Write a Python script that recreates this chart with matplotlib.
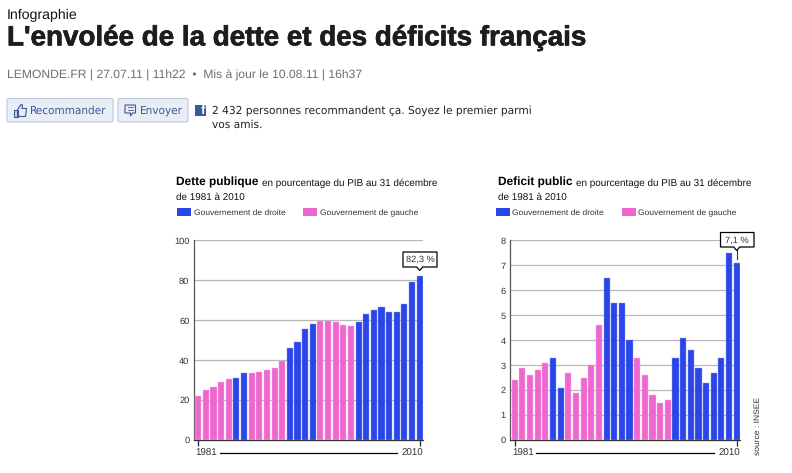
import matplotlib
matplotlib.use("Agg")
import matplotlib.pyplot as plt
import matplotlib.patheffects as pe
from matplotlib.patches import FancyBboxPatch, Rectangle, Polygon

W, H = 792, 473
plt.rcParams['font.family'] = ['Liberation Sans', 'DejaVu Sans']
plt.rcParams['text.hinting'] = 'no_hinting'
plt.rcParams['text.hinting_factor'] = 8

years = list(range(1981, 2011))
dette = [22, 25.3, 26.6, 29, 30.6, 31.2, 33.4, 33.4, 34, 35.2, 36, 39.8, 46, 49.3, 55.5,
         58.2, 59.5, 59.8, 59.1, 57.7, 57.2, 59.1, 63.2, 65, 66.7, 64.2, 64.3, 68, 79, 82.3]
deficit = [2.4, 2.9, 2.6, 2.8, 3.1, 3.3, 2.1, 2.7, 1.9, 2.5, 3.0, 4.6, 6.5, 5.5, 5.5,
           4.0, 3.3, 2.6, 1.8, 1.5, 1.6, 3.3, 4.1, 3.6, 2.9, 2.3, 2.7, 3.3, 7.5, 7.1]
gouv = ['g'] * 5 + ['d'] * 2 + ['g'] * 5 + ['d'] * 4 + ['g'] * 5 + ['d'] * 9
BLUE, PINK = '#2b46e8', '#ee67cf'
colors = {'d': BLUE, 'g': PINK}
edges = {'d': '#8c9bf0', 'g': '#f6b0e4'}

fig = plt.figure(figsize=(W / 100, H / 100), dpi=100, facecolor='white')
page = fig.add_axes([0, 0, 1, 1])
page.set_xlim(0, W)
page.set_ylim(H, 0)
page.axis('off')
page.set_zorder(5)
page.patch.set_alpha(0)


def T(x, y, s, **k):
    k.setdefault('va', 'center')
    k.setdefault('color', '#111111')
    return page.text(x, y, s, **k)


# Page header
T(7, 15, 'Infographie', fontsize=10.2)
T(7, 38, "L'envolée de la dette et des déficits français", fontsize=20.0, fontweight='bold',
  color='#1d1d1d', path_effects=[pe.withStroke(linewidth=0.5, foreground='#1d1d1d')])
T(7, 75.5, 'LEMONDE.FR | 27.07.11 | 11h22  •  Mis à jour le 10.08.11 | 16h37', fontsize=8.75, color='#6f6f6f')

for x0, x1 in [(7, 113), (118, 188)]:
    page.add_patch(FancyBboxPatch((x0, 98.5), x1 - x0, 23.5, boxstyle='round,pad=0,rounding_size=2',
                                  fc='#e9edf6', ec='#bcc6dd', lw=0.8))
T(30, 110.5, 'Recommander', fontsize=7.6, color='#3b5998', family=['DejaVu Sans'])
T(140, 110.5, 'Envoyer', fontsize=7.6, color='#3b5998', family=['DejaVu Sans'])
# thumb icon
page.add_patch(Rectangle((14, 110), 3.5, 6.5, fc='#c9d3ea', ec='#3b5998', lw=0.8))
page.add_patch(Polygon([(17.5, 110), (21, 104.5), (22.5, 105), (22, 108.5), (26.5, 108.5), (25.5, 116.5), (17.5, 116.5)],
                       closed=True, fc='none', ec='#3b5998', lw=0.8))
# comment icon
page.add_patch(Polygon([(125, 105), (135.5, 105), (135.5, 113), (132.5, 113), (130.5, 116), (130.5, 113), (125, 113)],
                       closed=True, fc='none', ec='#3b5998', lw=0.8))
page.plot([127.5, 133], [107.5, 107.5], color='#3b5998', lw=0.6)
page.plot([127.5, 133], [110, 110], color='#3b5998', lw=0.6)
# fb icon
page.add_patch(Rectangle((195, 104.5), 11, 11, fc='#3b5998', ec='none'))
T(200.5, 111, 'f', fontsize=9.5, color='white', fontweight='bold', ha='left')
T(212, 110.5, '2 432 personnes recommandent ça. Soyez le premier parmi', fontsize=7.64, color='#222222',
  family=['DejaVu Sans'])
T(212, 125, 'vos amis.', fontsize=7.64, color='#222222', family=['DejaVu Sans'])


def chart(vals, ymax, yticks, left, right, title, tx, legx, lab_box, lab_tip):
    top, bottom = 240.5, 440
    ax = fig.add_axes([left / W, 1 - bottom / H, (right - left) / W, (bottom - top) / H])
    xs = list(range(len(vals)))
    ax.bar(xs, vals, width=0.8, color=[colors[g] for g in gouv],
           edgecolor=[edges[g] for g in gouv], linewidth=0.3, zorder=3)
    ax.set_xlim(-0.62, 29.43)
    ax.set_ylim(0, ymax)
    ax.set_yticks(yticks)
    ax.set_xticks([0, 29])
    ax.set_xticklabels([])
    ax.tick_params(axis='y', length=0, labelsize=6.7, pad=3, labelcolor='#333333')
    ax.tick_params(axis='x', length=4, width=0.9, color='#222222')
    ax.grid(axis='y', color='#b8b8b8', lw=0.9)
    ax.set_axisbelow(True)
    for s in ('top', 'right'):
        ax.spines[s].set_visible(False)
    ax.spines['left'].set_color('#555555')
    ax.spines['left'].set_linewidth(0.9)
    ax.spines['bottom'].set_color('#333333')
    ax.spines['bottom'].set_linewidth(0.9)

    # Title block
    t = T(tx, 182.5, title, fontsize=8.6, fontweight='bold', color='black')
    fig.canvas.draw()
    bb = t.get_window_extent()
    T(bb.x1 + 3.5, 183, 'en pourcentage du PIB au 31 décembre', fontsize=7.15, color='#111111')
    T(tx, 197, 'de 1981 à 2010', fontsize=7.15, color='#111111')

    # Legend
    for dx, c, lab in [(0, BLUE, 'Gouvernement de droite'), (126, PINK, 'Gouvernement de gauche')]:
        page.add_patch(Rectangle((legx + dx, 207.5), 14, 8.5, fc=c, ec='none'))
        T(legx + dx + 16.5, 212, lab, fontsize=6.1, color='#333333', va='center_baseline')

    # Year axis labels
    x0, x1 = ax.transData.transform([(0, 0), (29, 0)])[:, 0]
    T(x0 - 2.5, 453.5, str(years[0]), fontsize=7, ha='left', color='#333333')
    T(right, 453.5, str(years[-1]), fontsize=7, ha='right', color='#333333')
    page.plot([x0 + 21.5, x1 - 22.5], [453, 453], color='black', lw=0.9)

    # Callout
    bx0, bx1, by0, by1 = lab_box
    cx = x1
    page.add_patch(Polygon([(bx0, by0), (bx1, by0), (bx1, by1), (cx + 3, by1), (cx, by1 + 3.5), (cx - 3, by1), (bx0, by1)],
                           closed=True, fc='white', ec='black', lw=0.9, zorder=6))
    if lab_tip > by1 + 4:
        page.plot([cx, cx], [by1 + 3, lab_tip], color='#333333', lw=0.8, zorder=5)
    T((bx0 + bx1) / 2, (by0 + by1) / 2 + 0.3, f'{vals[-1]:.1f} %'.replace('.', ','), fontsize=6.7, ha='center',
      color='#333333', zorder=7)
    return ax


chart(dette, 100, [0, 20, 40, 60, 80, 100], 193.5, 423, 'Dette publique', 176, 177, (403, 437, 252, 267), 271)
chart(deficit, 8, list(range(9)), 510, 740, 'Deficit public', 498, 496, (720.5, 754, 232.5, 247), 259)

T(758, 426, 'source : INSEE', fontsize=6.1, rotation=90, ha='center', va='center', color='#333333')

fig.savefig('out.png', dpi=100)
